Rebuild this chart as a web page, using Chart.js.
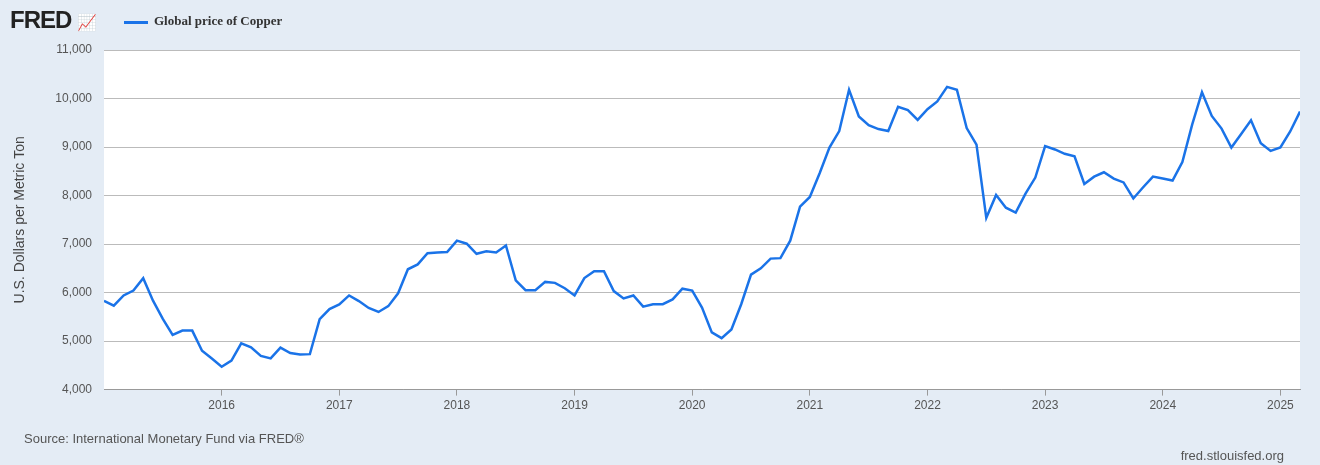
<!DOCTYPE html>
<html lang="en">
<head>
<meta charset="UTF-8">
<title>Global price of Copper</title>
<script src="https://cdn.jsdelivr.net/npm/chart.js@4.4.0"></script>
<style>
  body { margin: 0; background: #e4ecf5; font-family: "Liberation Sans", Arial, sans-serif; }
  #wrap { position: relative; width: 1320px; height: 465px; }
  canvas { position: absolute; left: 0; top: 0; }
  .logo { position: absolute; left: 10px; top: 6px; font: bold 24px "Liberation Sans", Arial, sans-serif; color: #222; letter-spacing: -1px; }
  .legend { position: absolute; left: 124px; top: 13px; font: bold 13px "Liberation Serif", serif; color: #333; }
  .legend span { display: inline-block; width: 24px; height: 3px; background: #1a73e8; vertical-align: middle; margin-right: 6px; }
  .src { position: absolute; left: 24px; top: 431px; font-size: 13px; color: #555; }
  .url { position: absolute; right: 36px; top: 448px; font-size: 13px; color: #555; }
</style>
</head>
<body>
<div id="wrap">
  <canvas id="c" width="1320" height="465"></canvas>
  <div class="logo">FRED <span style="font-size:16px;color:#6a8">📈</span></div>
  <div class="legend"><span></span>Global price of Copper</div>
  <div class="src">Source: International Monetary Fund via FRED®</div>
  <div class="url">fred.stlouisfed.org</div>
</div>
<script>
// monthly, Jan 2015 .. Mar 2025, USD per metric ton
const startYear = 2015;
const copper = [
  5831, 5729, 5940, 6042, 6295, 5833, 5457, 5127, 5217, 5216, 4800, 4639,
  4472, 4599, 4954, 4873, 4695, 4642, 4864, 4754, 4723, 4731, 5450, 5660,
  5755, 5941, 5825, 5684, 5600, 5720, 5985, 6480, 6580, 6810, 6825, 6835,
  7070, 7007, 6800, 6850, 6825, 6970, 6250, 6050, 6050, 6220, 6200, 6090,
  5940, 6300, 6440, 6440, 6030, 5880, 5940, 5710, 5760, 5760, 5860, 6080,
  6040, 5690, 5180, 5060, 5240, 5760, 6370, 6500, 6700, 6710, 7070, 7770,
  7970, 8460, 8990, 9330, 10180, 9630, 9450, 9370, 9330, 9830, 9760, 9560,
  9780, 9940, 10240, 10180, 9390, 9050, 7540, 8010, 7750, 7650, 8040, 8370,
  9020, 8950, 8860, 8810, 8240, 8390, 8480, 8350, 8270, 7940, 8170, 8390,
  8350, 8310, 8690, 9460, 10130, 9640, 9380, 8990, 9270, 9550, 9080, 8920,
  8990, 9320, 9730
];
const yearTicks = [12, 24, 36, 48, 60, 72, 84, 96, 108, 120];

const plotBg = {
  id: 'plotBg',
  beforeDraw(chart) {
    const { ctx, chartArea: a } = chart;
    ctx.save();
    ctx.fillStyle = '#fff';
    ctx.fillRect(a.left, a.top, a.right - a.left, a.bottom - a.top);
    ctx.restore();
  }
};

new Chart(document.getElementById('c'), {
  type: 'line',
  data: {
    datasets: [{
      data: copper.map((v, i) => ({ x: i, y: v })),
      borderColor: '#1a73e8',
      borderWidth: 2.5,
      pointRadius: 0,
      tension: 0
    }]
  },
  options: {
    responsive: false,
    animation: false,
    layout: { padding: { top: 50, right: 20, bottom: 49, left: 8 } },
    plugins: { legend: { display: false }, tooltip: { enabled: false } },
    scales: {
      x: {
        type: 'linear', min: 0, max: copper.length - 1,
        afterBuildTicks: s => { s.ticks = yearTicks.map(v => ({ value: v })); },
        ticks: { callback: v => startYear + v / 12, color: '#555', font: { size: 12 }, maxRotation: 0 },
        grid: { display: true, drawOnChartArea: false, tickLength: 6, color: '#999' },
        border: { color: '#999' }
      },
      y: {
        min: 4000, max: 11000,
        afterFit: s => { s.width = 96; },
        ticks: { stepSize: 1000, color: '#555', font: { size: 12 }, padding: 12, callback: v => v.toLocaleString('en-US') },
        grid: { color: '#bbb', drawTicks: false },
        border: { display: false },
        title: { display: true, text: 'U.S. Dollars per Metric Ton', color: '#444', font: { size: 14 } }
      }
    }
  },
  plugins: [plotBg]
});
</script>
</body>
</html>
